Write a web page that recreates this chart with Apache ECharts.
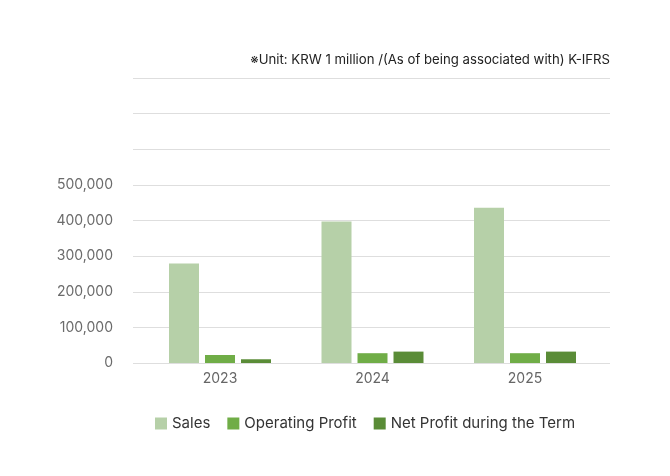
<!DOCTYPE html>
<html>
<head>
    <meta charset="utf-8">
    <style>
        html, body { margin: 0; padding: 0; background: #fff; }
        #chart { width: 670px; height: 476px; }
    </style>
    <script src="https://cdn.jsdelivr.net/npm/echarts@6/dist/echarts.min.js"></script>
</head>
<body>
<div id="chart"></div>
<script>
    // 데이터 (단위: 백만원)
    var years = ['2023', '2024', '2025'];
    var sales = [279000, 397000, 436000];
    var operatingProfit = [22500, 27500, 27500];
    var netProfit = [10500, 32000, 32000];
    var seriesNames = ['Sales', 'Operating Profit', 'Net Profit during the Term'];
    var colors = ['#b6d0a8', '#70ad47', '#5a8c37'];

    var font = 'Inter, "Noto Sans", sans-serif';

    var myChart = echarts.init(document.getElementById('chart'));
    var option = {
        animation: false,
        color: colors,
        textStyle: { fontFamily: font },
        title: {
            text: '※Unit: KRW 1 million /(As of being associated with) K-IFRS',
            right: 55,
            top: 49,
            textStyle: { fontSize: 13.2, fontWeight: 'normal', color: '#222', fontFamily: font }
        },
        legend: {
            left: 150,
            top: 411,
            itemWidth: 12,
            itemHeight: 12,
            itemGap: 17,
            icon: 'rect',
            textStyle: { fontSize: 15, color: '#333', fontFamily: font },
            data: seriesNames
        },
        // grid 0: 배경 그리드선 + y축 라벨, grid 1: 막대
        grid: [
            { left: 133, right: 60, top: 78, bottom: 113 },
            { left: 143.75, right: 68.75, top: 78, bottom: 113 }
        ],
        xAxis: [
            { gridIndex: 0, type: 'value', min: 0, max: 1, show: false },
            {
                gridIndex: 1,
                type: 'category',
                data: years,
                axisLine: { show: false },
                axisTick: { show: false },
                axisLabel: { fontSize: 14, color: '#666', margin: 9, fontFamily: font }
            }
        ],
        yAxis: [
            {
                gridIndex: 0,
                type: 'value',
                min: 0,
                max: 800000,
                interval: 100000,
                axisLine: { show: false },
                axisTick: { show: false },
                splitLine: { lineStyle: { color: '#dedede', width: 1 } },
                axisLabel: {
                    fontSize: 14,
                    color: '#6b6b6b',
                    margin: 20,
                    fontFamily: font,
                    formatter: function (v) {
                        if (v > 500000) return '';
                        return v.toLocaleString('en-US');
                    }
                }
            },
            {
                gridIndex: 1,
                type: 'value',
                min: 0,
                max: 800000,
                show: false
            }
        ],
        series: [
            {
                name: seriesNames[0], type: 'bar', xAxisIndex: 1, yAxisIndex: 1,
                data: sales, barWidth: 30, barGap: '20%'
            },
            {
                name: seriesNames[1], type: 'bar', xAxisIndex: 1, yAxisIndex: 1,
                data: operatingProfit, barWidth: 30, barGap: '20%'
            },
            {
                name: seriesNames[2], type: 'bar', xAxisIndex: 1, yAxisIndex: 1,
                data: netProfit, barWidth: 30, barGap: '20%'
            }
        ]
    };
    myChart.setOption(option);
</script>
</body>
</html>
